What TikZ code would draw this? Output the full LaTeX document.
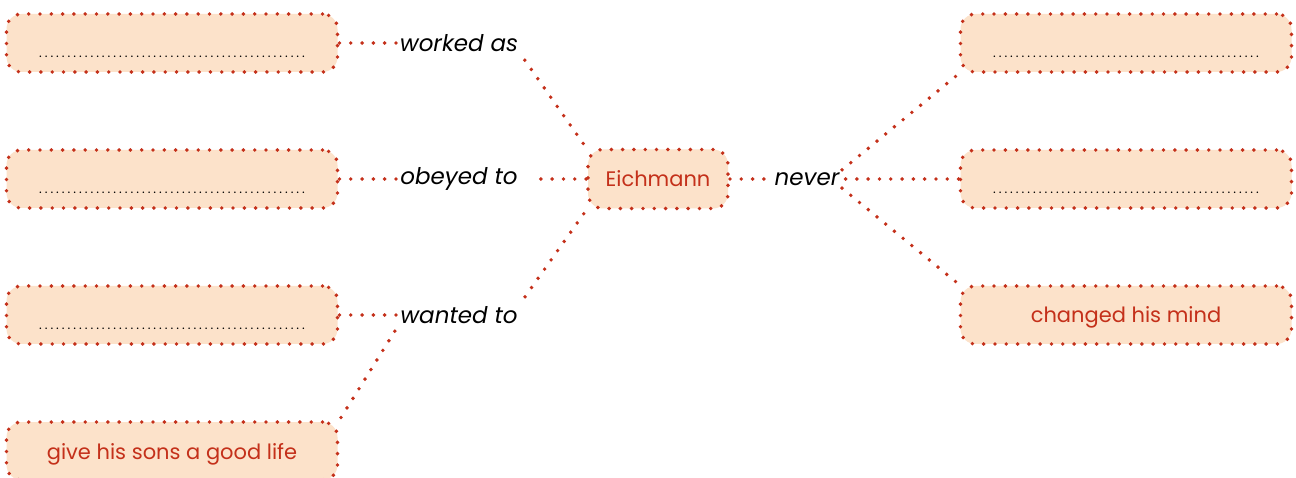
\documentclass[tikz,border=0pt]{standalone}
\usepackage{fontspec}
\setmainfont{Poppins}
\usepackage{tikz}
\definecolor{eired}{HTML}{C4301A}
\definecolor{eifill}{HTML}{FCE2CA}
\newcommand{\blanks}{\smash{\raisebox{-15pt}{\makebox[274pt]{\fontsize{13}{13}\selectfont\color{black}\dotfill}}}}

\begin{document}
\begin{tikzpicture}[x=1pt, y=-1pt, node distance=136pt,
	dots/.style={draw=eired, line width=3.9pt, line cap=round, dash pattern=on 0pt off 11.3pt},
	box node/.style={dots, rounded corners=15pt, fill=eifill, minimum width=331pt,
		minimum height=58pt, text=eired, text depth=0pt, font=\fontsize{21}{25}\selectfont},
	word node/.style={font=\fontsize{23}{27}\selectfont\itshape, inner sep=2pt}]
	\useasboundingbox (0,0) rectangle (1296,478);
	
	\node[box node] (1) at (172,43) {\blanks};
	\node[box node] (2) [below of=1] {\blanks};
	\node[box node] (3) [below of=2] {\blanks};
	\node[box node] (4) [below of=3] {give his sons a good life};
	
	\node[word node] (w1) [right of=1, node distance=287pt] {worked as};
	\node[word node] (w2) [right of=2, node distance=287pt] {obeyed to};
	\node[word node] (w3) [right of=3, node distance=287pt] {wanted to};
	
	\node[box node, minimum width=140pt, minimum height=59pt] (e) [right of=w2, node distance=199pt] {Eichmann};
	\node[word node] (n) [right of=e, node distance=149pt] {never};
	
	\node[box node] (6) [right of=n, node distance=319pt] {\blanks};
	\node[box node] (5) [above of=6] {\blanks};
	\node[box node] (7) [below of=6] {changed his mind};
	
	\path[dots]
	(1) edge (w1)
	(2) edge (w2)
	(3) edge (w3)
	(e.north west) edge[shorten <=5pt] (w1.south east)
	(e) edge[shorten >=16pt] (w2)
	(e.south west) edge[shorten <=4pt] (w3.north east)
	(4.north east) edge[shorten <=3pt] (w3.south west)
	(e) edge (n)
	(5.south west) edge[shorten <=4pt] (n.north east)
	(6) edge (n)
	(7.north west) edge[shorten <=4pt] (n.south east);
\end{tikzpicture}
\end{document}
